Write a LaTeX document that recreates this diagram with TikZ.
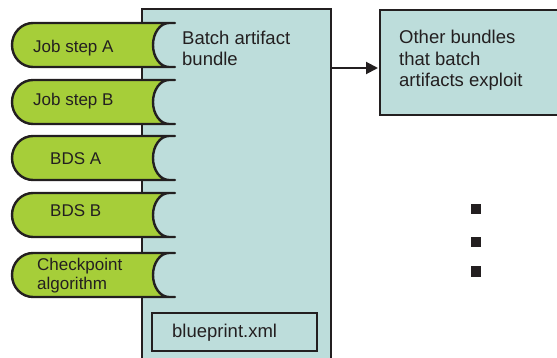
\documentclass[tikz,border=0pt]{standalone}
\usepackage{fontspec}
\setmainfont{Liberation Sans}
\usetikzlibrary{arrows.meta}
\definecolor{leaf}{RGB}{166,206,57}
\definecolor{mist}{RGB}{189,221,219}
\definecolor{ink}{RGB}{35,31,32}
\tikzset{
  box/.style={draw=ink, fill=mist, line width=2.4pt, inner sep=0pt},
  pill/.style={draw=ink, fill=leaf, line width=2.4pt, line join=round},
  pilltext/.style={anchor=base west, inner sep=0pt, text=ink, align=left,
    font=\fontsize{17}{20}\selectfont},
  boxtext/.style={anchor=base west, inner sep=0pt, text=ink, align=left,
    font=\fontsize{18.5}{21.8}\selectfont},
  conn/.style={draw=ink, line width=2pt, -{Triangle[length=12pt,width=12pt]}},
  dot/.style={fill=ink, inner sep=0pt, minimum size=10pt}
}
\begin{document}
\begin{tikzpicture}[x=1pt,y=-1pt]
\useasboundingbox (0,0) rectangle (557,358);
\clip (0,0) rectangle (557,358);
\fill[white] (0,0) rectangle (557,358);

% the artifact bundle and the bundles it depends on
\node[box, anchor=north west, minimum width=189pt, minimum height=370pt] (bundle) at (141,8) {};
\node[box, anchor=north west, minimum width=200pt, minimum height=105pt] (other) at (379,9) {};

% component tabs plugged into the bundle
\foreach \t in {23,80,136,193,253}{
  \path[pill] (175,\t) -- (33,\t)
    arc[start angle=-90, end angle=-270, x radius=21, y radius=22]
    -- (175,\t+44) -- (169,\t+44)
    arc[start angle=90, end angle=270, x radius=16, y radius=22]
    -- cycle;
}
% (multi-line labels are placed by the baseline of their last line)
\node[pilltext] (jobA) at (33,53) {Job step A};
\node[pilltext] (jobB) at (33,106) {Job step B};
\node[pilltext] (bdsA) at (50,165) {BDS A};
\node[pilltext] (bdsB) at (50,217) {BDS B};
\node[pilltext] (ckpt) at (37,290) {Checkpoint\\algorithm};

% labels
\node[boxtext] (bundletxt) at (182,66) {Batch artifact\\bundle};
\node[boxtext] (othertxt) at (399,87) {Other bundles\\that batch\\artifacts exploit};

% blueprint file
\node[box, line width=2.2pt, anchor=north west, minimum width=165pt, minimum height=38pt] (bp) at (151,312) {};
\node[boxtext] (bptxt) at (172,337) {blueprint.xml};

% dependency arrow
\coordinate (arrowy) at (0,68);
\draw[conn, shorten >=1pt] (bundle.east |- arrowy) -- (other.west |- arrowy);

% ellipsis
\node[dot] (d1) at (476,209.5) {};
\node[dot] (d2) at (476,242.5) {};
\node[dot] (d3) at (476,271.5) {};
\end{tikzpicture}
\end{document}
